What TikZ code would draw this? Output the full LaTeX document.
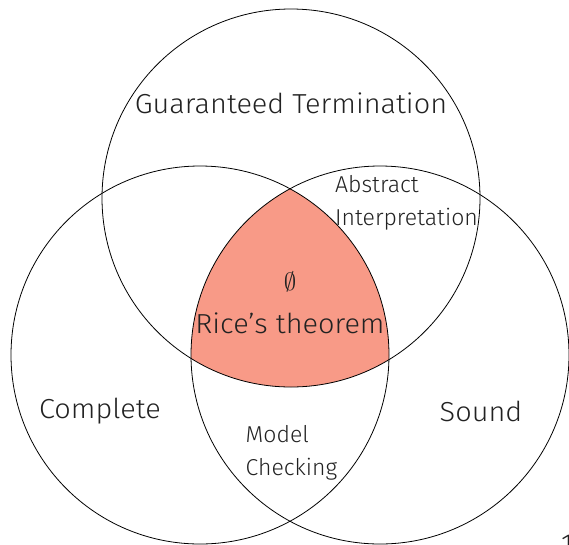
\documentclass[tikz,border=0pt]{standalone}
\usepackage{fontspec}
\setmainfont{Fira Sans}[UprightFont=* Light]
\newfontfamily\widelight{Fira Sans}[UprightFont=* Light, FakeStretch=1.05]
\definecolor{ricefill}{HTML}{F89A87}
\definecolor{inktext}{HTML}{222222}
\tikzset{
  setline/.style={draw=black, line width=0.8pt},
  biglabel/.style={text=inktext, font=\widelight\fontsize{27.5}{30}\selectfont, inner sep=0pt},
  smalllabel/.style={text=inktext, font=\fontsize{23}{32.5}\selectfont, inner sep=0pt, align=left},
}
\begin{document}
\begin{tikzpicture}[x=1pt,y=-1pt]
\useasboundingbox (0,0) rectangle (569,544);
% centres of the three sets
\coordinate (term) at (291,198);
\coordinate (compl) at (200,355);
\coordinate (snd) at (380,355);
% common part of all three sets
\begin{scope}
  \clip (term) circle (189pt);
  \clip (compl) circle (189pt);
  \fill[ricefill] (snd) circle (189pt);
\end{scope}
\draw[setline] (term) circle (189pt);
\draw[setline] (compl) circle (189pt);
\draw[setline] (snd) circle (189pt);
% labels (two-line labels are placed by the baseline of their last line)
\node[biglabel, anchor=base] (gt) at (291,113) {Guaranteed Termination};
\node[biglabel, anchor=base] (cp) at (100,418) {Complete};
\node[biglabel, anchor=base] (sd) at (481,421) {Sound};
\node[text=inktext, font=\fontsize{27.5}{30}\selectfont, inner sep=0pt] (empty) at (290,281.5) {$\emptyset$};
\node[biglabel, anchor=base] (rice) at (290,333) {Rice’s theorem};
\node[smalllabel, anchor=base west] (ai) at (335,225) {Abstract\\Interpretation};
\node[smalllabel, anchor=base west] (mc) at (245.5,475) {Model\\Checking};
\node[biglabel, anchor=north west] (pg) at (561,535) {1};
\end{tikzpicture}
\end{document}
